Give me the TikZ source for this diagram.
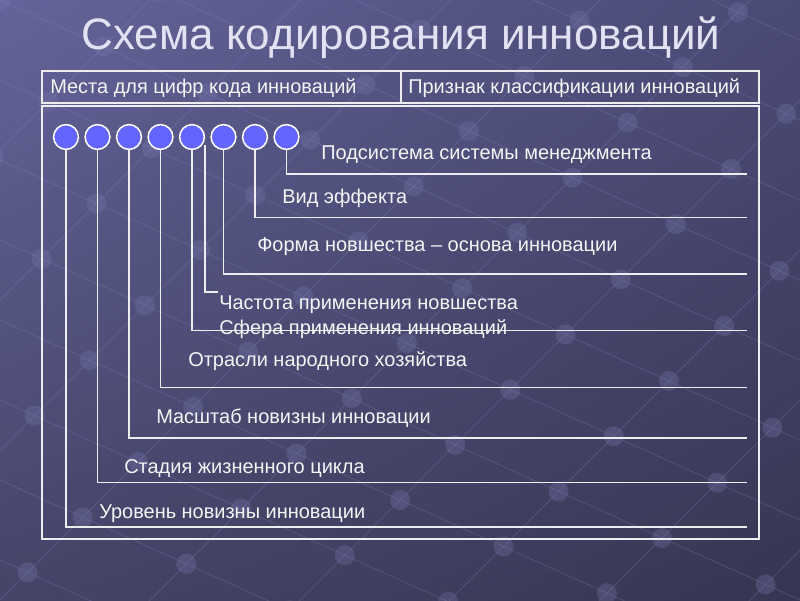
\documentclass[tikz,border=0pt]{standalone}
\usepackage{fontspec}
\setmainfont{Liberation Sans}
\usetikzlibrary{shadings}
\definecolor{txtc}{HTML}{F4F4F4}
\definecolor{linec}{HTML}{EDEDED}
\definecolor{dotc}{HTML}{6464FF}
\definecolor{titlec}{HTML}{E2E2F2}
\definecolor{bgA}{HTML}{64649A}
\definecolor{bgB}{HTML}{4A4A76}
\definecolor{bgC}{HTML}{444468}
\definecolor{bgD}{HTML}{363652}
\definecolor{gridc}{HTML}{9090C8}
\definecolor{knotc}{HTML}{7A7AB0}
\begin{document}
\begin{tikzpicture}[x=0.025cm,y=-0.025cm,
  lbl/.style={anchor=base west,inner sep=0pt,text=txtc,font=\fontsize{14.2}{16}\selectfont},
  dot/.style={circle,draw=white,line width=1.1pt,fill=dotc,minimum size=0.62cm,inner sep=0pt},
  conn/.style={draw=linec,line width=1.4pt},
  box/.style={draw=linec,line width=1.4pt},
  grid line/.style={draw=gridc,opacity=0.28,line width=0.5pt},
  knot/.style={fill=knotc,opacity=0.3}]
\useasboundingbox (0,0) rectangle (800,600);
% background
\shade[upper left=bgA,upper right=bgB,lower left=bgC,lower right=bgD] (0,0) rectangle (800,600);
\begin{scope}
\clip (0,0) rectangle (800,600);
\foreach \k in {0,...,15}{
  \pgfmathsetmacro{\a}{-400+80*\k}
  \draw[grid line] (0,\a) -- (800,{\a+360});
}
\foreach \j in {0,...,10}{
  \pgfmathsetmacro{\b}{150*\j}
  \draw[grid line] (0,\b) -- (800,{\b-800});
}
\foreach \k in {0,...,15}{
  \foreach \j in {0,...,10}{
    \pgfmathsetmacro{\a}{-400+80*\k}
    \pgfmathsetmacro{\b}{150*\j}
    \pgfmathsetmacro{\xx}{(\b-\a)/1.45}
    \pgfmathsetmacro{\yy}{0.45*\xx+\a}
    \fill[knot] (\xx,\yy) circle (10);
  }
}
\end{scope}
% title
\node[anchor=base,inner sep=0pt,text=titlec,font=\fontsize{31.3}{36}\selectfont] (title) at (401,49) {Схема кодирования инноваций};
% header and frame
\draw[box] (42,71) rectangle (759,103);
\draw[box] (401,71) -- (401,103);
\draw[box] (42,106) rectangle (759,539);
\node[lbl] (h1) at (50,93.5) {Места для цифр кода инноваций};
\node[lbl] (h2) at (408,93.5) {Признак классификации инноваций};
% circles
\foreach \i/\x in {1/66,2/97.5,3/129,4/160.5,5/192,6/223.5,7/255,8/286.5}
  \node[dot] (c\i) at (\x,137) {};
% end points
\coordinate (e8) at (747,174);
\coordinate (e7) at (747,217.5);
\coordinate (e6) at (747,274);
\coordinate (s9) at (205,145);
\coordinate (e9) at (218,292);
\coordinate (e5) at (747,330.5);
\coordinate (e4) at (747,387.5);
\coordinate (e3) at (747,438);
\coordinate (e2) at (747,482.5);
\coordinate (e1) at (747,527);
% connectors
\draw[conn] (c8.south) |- (e8);
\draw[conn] (c7.south) |- (e7);
\draw[conn] (c6.south) |- (e6);
\draw[conn] (s9) |- (e9);
\draw[conn] (c5.south) |- (e5);
\draw[conn] (c4.south) |- (e4);
\draw[conn] (c3.south) |- (e3);
\draw[conn] (c2.south) |- (e2);
\draw[conn] (c1.south) |- (e1);
% labels
\node[lbl] (l8) at (321,159) {Подсистема системы менеджмента};
\node[lbl] (l7) at (282,203) {Вид эффекта};
\node[lbl] (l6) at (257,251.5) {Форма новшества – основа инновации};
\node[lbl] (l9) at (219,309.5) {Частота применения новшества};
\node[lbl] (l5) at (219,334) {Сфера применения инноваций};
\node[lbl] (l4) at (188,366.5) {Отрасли народного хозяйства};
\node[lbl] (l3) at (156,423) {Масштаб новизны инновации};
\node[lbl] (l2) at (124,473) {Стадия жизненного цикла};
\node[lbl] (l1) at (99,518) {Уровень новизны инновации};
\end{tikzpicture}
\end{document}
